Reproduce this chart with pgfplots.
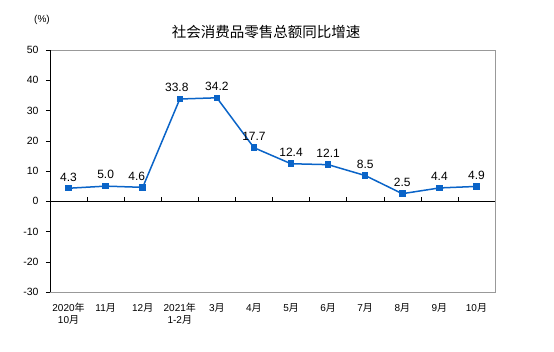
\documentclass[border=0pt]{standalone}
\usepackage{pgfplots}
\pgfplotsset{compat=1.18}
\usepackage{fontspec}
\setmainfont{Liberation Sans}
\newfontfamily\cjk{Noto Sans CJK SC}
\definecolor{lineblue}{HTML}{0A64C8}
\begin{document}
\begin{tikzpicture}[x=1pt,y=1pt]
\begin{axis}[
  at={(0,0)}, anchor=south west,
  scale only axis, width=445pt, height=242pt,
  xmin=-0.5, xmax=11.5, ymin=-30, ymax=50,
  ytick={-30,-20,...,50},
  xtick={0,...,11},
  xticklabels={{2020\cjk 年\\10\cjk 月},{11\cjk 月},{12\cjk 月},{2021\cjk 年\\1-2\cjk 月},{3\cjk 月},{4\cjk 月},{5\cjk 月},{6\cjk 月},{7\cjk 月},{8\cjk 月},{9\cjk 月},{10\cjk 月}},
  xticklabel style={align=center, font=\fontsize{10}{12}\selectfont, yshift=-4pt},
  yticklabel style={font=\fontsize{10.5}{12}\selectfont, xshift=-4pt},
  /pgf/number format/assume math mode=true,
  x tick style={draw=none},
  y tick style={black},
  tick align=outside, major tick length=4pt,
  ytick pos=left,
  axis line style={gray!80},
  nodes near coords,
  point meta=explicit symbolic,
  visualization depends on={\thisrow{dx} \as \dx},
  every node near coord/.append style={font=\fontsize{12}{14}\selectfont, black, yshift=3pt, xshift=\dx pt},
  clip=false,
]
\draw[black] (axis cs:-0.5,-30) -- (axis cs:-0.5,50);
\draw[black] (axis cs:-0.5,0) -- (axis cs:11.5,0);
\pgfplotsinvokeforeach{0.5,1.5,2.5,3.5,4.5,5.5,6.5,7.5,8.5,9.5,10.5}{
  \draw[black] (axis cs:#1,0) -- (axis cs:#1,1.3);
}
\addplot[color=lineblue, line width=1.5pt, mark=square*, mark size=2.5pt, mark options={fill=lineblue}]
  table[meta=l] {
x y l dx
0 4.3 4.3 0
1 5.0 5.0 0
2 4.6 4.6 -6
3 33.8 33.8 -3
4 34.2 34.2 0
5 17.7 17.7 0
6 12.4 12.4 0
7 12.1 12.1 0
8 8.5 8.5 0
9 2.5 2.5 0
10 4.4 4.4 0
11 4.9 4.9 0
};
\end{axis}
\node[font=\cjk\fontsize{14.5}{16}\selectfont] at (216pt,260pt) {社会消费品零售总额同比增速};
\node[font=\fontsize{10}{12}\selectfont] at (-8pt,272pt) {(\%)};
\path[use as bounding box] (-50pt,-59pt) rectangle (504pt,292pt);
\end{tikzpicture}
\end{document}
